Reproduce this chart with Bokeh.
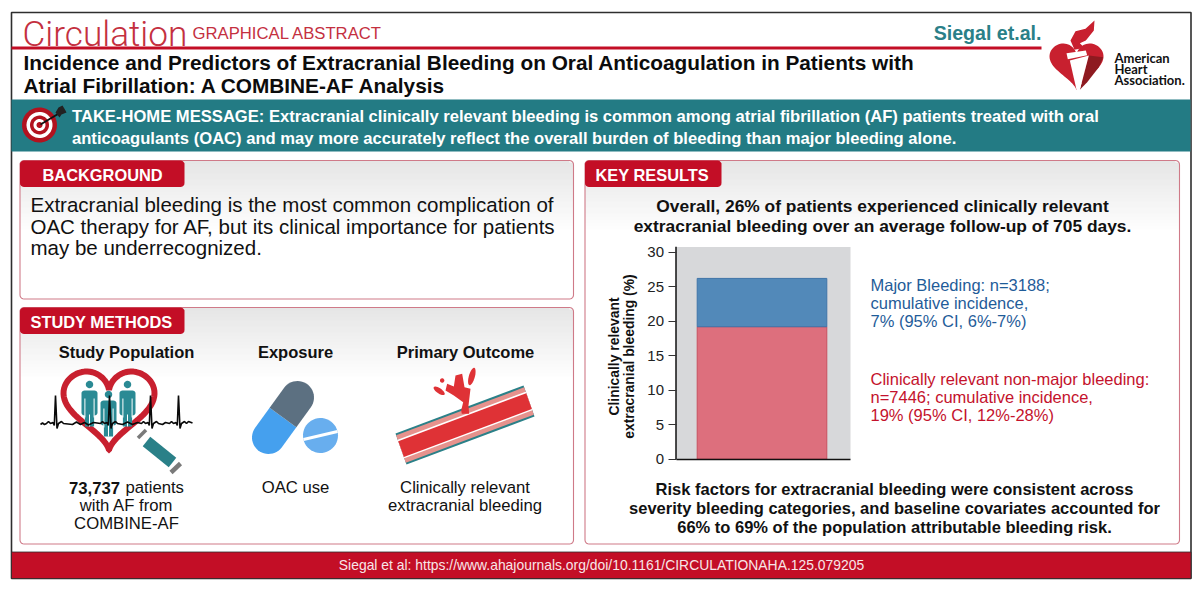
import numpy as np
from bokeh.plotting import figure
from bokeh.models import Range1d, LinearAxis, FixedTicker
from bokeh.core.properties import value
from bokeh.embed import file_html
from bokeh.resources import INLINE

# ---- chart data ----
bleeding_categories = ["Clinically relevant non-major bleeding", "Major bleeding"]
bleeding_values = [19.2, 7.0]
tick_values = [0, 5, 10, 15, 20, 25, 30]
axis_title = "Clinically relevant\nextracranial bleeding (%)"

# ---- texts ----
title_lines = ["Incidence and Predictors of Extracranial Bleeding on Oral Anticoagulation in Patients with",
               "Atrial Fibrillation: A COMBINE-AF Analysis"]
take_home = ["TAKE-HOME MESSAGE: Extracranial clinically relevant bleeding is common among atrial fibrillation (AF) patients treated with oral",
             "anticoagulants (OAC) and may more accurately reflect the overall burden of bleeding than major bleeding alone."]
background_lines = ["Extracranial bleeding is the most common complication of",
                    "OAC therapy for AF, but its clinical importance for patients",
                    "may be underrecognized."]
key_top = ["Overall, 26% of patients experienced clinically relevant",
           "extracranial bleeding over an average follow-up of 705 days."]
key_bottom = ["Risk factors for extracranial bleeding were consistent across",
              "severity bleeding categories, and baseline covariates accounted for",
              "66% to 69% of the population attributable bleeding risk."]
major_note = ["Major Bleeding: n=3188;", "cumulative incidence,", "7% (95% CI, 6%-7%)"]
crnm_note = ["Clinically relevant non-major bleeding:", "n=7446; cumulative incidence,", "19% (95% CI, 12%-28%)"]
footer_text = "Siegal et al: https://www.ahajournals.org/doi/10.1161/CIRCULATIONAHA.125.079205"

RED = "#c30e26"
TEAL = "#237b84"
FONT = "Liberation Sans"

X0, X1, Y0, Y1 = 0, 1192, 582, 0
p = figure(width=1192, height=582, x_range=Range1d(X0, X1), y_range=Range1d(Y0, Y1),
           output_backend="svg", toolbar_location=None, min_border=0,
           x_axis_type=None, y_axis_type=None, outline_line_color=None,
           background_fill_color="white", border_fill_color="white")
p.grid.visible = False


def T(x, y, s, size, color="#111111", bold=False, align="left", font=FONT):
    p.text(x=[x], y=[y], text=[s], text_font=value(font), text_font_size=f"{size}px",
           text_font_style="bold" if bold else "normal", text_color=color,
           text_align=align, text_baseline="middle")


def poly(pts, color, **kw):
    a = np.array(pts, dtype=float)
    p.patch(a[:, 0], a[:, 1], fill_color=color, line_color=None, **kw)


def rrect(x0, y0, x1, y1, r=4):
    t = np.linspace(0, np.pi / 2, 6)
    pts = []
    for cx, cy, a0 in [(x1 - r, y0 + r, -np.pi / 2), (x1 - r, y1 - r, 0),
                       (x0 + r, y1 - r, np.pi / 2), (x0 + r, y0 + r, np.pi)]:
        pts += [(cx + r * np.cos(a0 + u), cy + r * np.sin(a0 + u)) for u in t]
    return pts


def circle_pts(cx, cy, rx, ry=None, rot=0, n=48):
    ry = rx if ry is None else ry
    t = np.linspace(0, 2 * np.pi, n)
    x, y = rx * np.cos(t), ry * np.sin(t)
    return np.c_[cx + x * np.cos(rot) - y * np.sin(rot), cy + x * np.sin(rot) + y * np.cos(rot)]


def heart_pts(x0, x1, y0, y1, n=120):
    t = np.linspace(0, 2 * np.pi, n)
    hx = 16 * np.sin(t) ** 3
    hy = 13 * np.cos(t) - 5 * np.cos(2 * t) - 2 * np.cos(3 * t) - np.cos(4 * t)
    x = x0 + (hx + 16) / 32 * (x1 - x0)
    y = y0 + (hy.max() - hy) / (hy.max() - hy.min()) * (y1 - y0)
    return np.c_[x, y]


def panel(x0, y0, x1, y1, tag_x1, label, lx, r=4):
    steps = 36
    ys = np.linspace(y0, y0 + 72, steps + 1)
    lefts, rights, tops, bots, cols = [], [], [], [], []
    for i in range(steps):
        g = int(230 + (255 - 230) * (i / (steps - 1)))
        inset = 0 if ys[i] >= y0 + r else r - np.sqrt(max(r ** 2 - (r - (ys[i] - y0)) ** 2, 0))
        lefts.append(x0 + inset); rights.append(x1 - inset)
        tops.append(ys[i]); bots.append(ys[i + 1] + 1)
        cols.append(f"#{g:02x}{g:02x}{g:02x}")
    p.quad(left=lefts, right=rights, top=tops, bottom=bots, fill_color=cols, line_color=None)
    a = np.array(rrect(x0, y0, x1, y1, r) + rrect(x0, y0, x1, y1, r)[:1])
    p.line(a[:, 0], a[:, 1], line_color="#cf7a88", line_width=1.1)
    poly(rrect(x0, y0, tag_x1, y0 + 26.5, r), RED)
    T(lx, y0 + 14, label, 16.4, "white", True)


# outer frame
p.quad(left=[11], right=[1190.5], top=[12], bottom=[578], fill_color="white", line_color="#2e2e2e", line_width=1.6)

# header
T(22, 33, "Circulation", 35.2, "#c4303f", font="Roboto Light")
p.line([11, 1041], [47.5, 47.5], line_color=RED, line_width=3)
T(192, 33, "GRAPHICAL ABSTRACT", 16.7, "#c4303f")
T(1041, 32, "Siegal et.al.", 19.6, "#2a8088", True, "right")
for y, s in zip([62, 85], title_lines):
    T(23, y, s, 20.8, "#0c0c0c", True)

# teal banner
p.quad(left=[11], right=[1190], top=[99], bottom=[151], fill_color=TEAL, line_color=None)
for y, s in zip([116, 138], take_home):
    T(71.5, y, s, 16.6, "white", True)
# target icon
for r_, c in [(17.5, "#b2121f"), (13, "white"), (9.5, "#b2121f"), (6, "white"), (3, "#b2121f")]:
    poly(circle_pts(39, 124.5, r_), c)
p.line([40, 60], [124, 112], line_color="#111111", line_width=2)
poly([(55, 112), (58, 107), (62, 105), (65, 110), (66, 112), (61, 114), (59, 117)], "#222222")

# panels
panel(19.5, 160, 573, 298.5, 184, "BACKGROUND", 42)
panel(19.5, 307, 573, 543.5, 184, "STUDY METHODS", 30)
panel(584.5, 160, 1179, 543.5, 721, "KEY RESULTS", 595)

for y, s in zip([204, 226, 247], background_lines):
    T(30, y, s, 20.5, "#111111")

# study methods columns
for x, s in [(126, "Study Population"), (295, "Exposure"), (465, "Primary Outcome")]:
    T(x, 351, s, 16.5, "#111111", True, "center")
T(119.5, 487, "73,737", 16.7, "#111111", True, "right")
T(125, 487, "patients", 16.7)
T(126, 505, "with AF from", 16.7, align="center")
T(126, 523, "COMBINE-AF", 16.7, align="center")
T(295, 487, "OAC use", 16.7, align="center")
T(464.5, 487, "Clinically relevant", 16.7, align="center")
T(464.5, 505, "extracranial bleeding", 16.7, align="center")

# --- study population icon ---
h = heart_pts(63, 154, 371, 450)
p.line(h[:, 0], h[:, 1], line_color="#c8202f", line_width=6)
for cx, top in [(89, 380), (108, 390), (127, 380)]:
    poly(circle_pts(cx, top + 4, 3.7), "#2a8a94")
    b = top + 10
    poly(rrect(cx - 8, b, cx + 8, b + 25, 3), "#2a8a94")
    poly([(cx - 4.6, b + 21), (cx + 4.6, b + 21), (cx + 4.6, b + 36), (cx - 4.6, b + 36)], "#2a8a94")
    p.segment(x0=[cx - 4.6, cx + 4.6, cx], y0=[b + 8, b + 8, b + 24],
              x1=[cx - 4.6, cx + 4.6, cx], y1=[b + 27, b + 27, b + 36], line_color="white", line_width=1)
ex, ey = [40, 42, 44], [424, 422.5, 424]
for bx in [55, 109, 150, 178]:
    ex += [bx - 9, bx - 7, bx - 5, bx - 2.5, bx - 1.2, bx, bx + 1.5, bx + 3, bx + 6, bx + 8]
    ey += [423, 421, 423, 422, 425, 395, 428, 423, 421, 423]
for gx, gy in [(72, 424), (76, 421.5), (80, 424), (84, 422), (88, 424.5), (93, 422), (122, 424), (127, 421.5),
               (132, 424), (137, 422), (162, 424), (165, 422), (188, 421), (192, 422.5)]:
    ex.append(gx); ey.append(gy)
order = np.argsort(ex)
ex = np.array(ex)[order]
ey = np.array(ey)[order]
p.line(ex, ey, line_color="#0a0a0a", line_width=1.6)
p.line([137.5, 145.5], [437.5, 429.5], line_color="#7a7a7a", line_width=3.5)
p.line([146, 172], [441, 462], line_color="#2a8088", line_width=12)
p.line([170.5, 180], [472, 463], line_color="#7a7a7a", line_width=4.5)

# --- pill icon ---
A, B = np.array([268.0, 437.0]), np.array([297.0, 397.0])
M = (A + B) / 2
d = (B - A) / np.linalg.norm(B - A)
n_ = np.array([-d[1], d[0]])
R = 16.5
ang = np.arctan2(d[1], d[0])
arc_a = [A + R * np.array([np.cos(t), np.sin(t)]) for t in np.linspace(ang + np.pi / 2, ang + 3 * np.pi / 2, 24)]
arc_b = [B + R * np.array([np.cos(t), np.sin(t)]) for t in np.linspace(ang - np.pi / 2, ang + np.pi / 2, 24)]
poly(arc_a + [M - R * n_, M + R * n_], "#45a0ee")
poly(arc_b + [M + R * n_, M - R * n_], "#5c7081")
poly(circle_pts(320, 435, 17.5), "#68aeee")
p.line([303, 337], [439, 431], line_color="white", line_width=3)

# --- vessel icon ---
O = np.array([395.0, 433.0]); U = np.array([128.0, -48.0]); V = np.array([11.0, 31.0])


def band(f0, f1, c):
    poly([O + f0 * V, O + U + f0 * V, O + U + f1 * V, O + f1 * V], c)


for f0, f1, c in [(0, 1, "#2a8088"), (0.06, 0.94, "#e6928d"), (0.2, 0.8, "white"), (0.25, 0.76, "#df3236")]:
    band(f0, f1, c)


def z5(x, y):
    return (x / 3 + 240, y / 3 + 330)


poly([z5(*q) for q in [(662, 240), (668, 215), (640, 195), (615, 180), (620, 160), (640, 168), (645, 135),
                       (665, 130), (672, 170), (690, 175), (684, 225), (686, 250), (664, 250)]], "#df3236")
poly(circle_pts(*z5(694, 138), 9, 3, rot=-1.3), "#df3236")
poly(circle_pts(*z5(596, 181), 6.5, 2.6, rot=0.6), "#df3236")
poly(circle_pts(*z5(605, 150), 2.2), "#df3236")

# --- chart ---
PX0, PX30 = 458.7, 251.7
unit = (PX0 - PX30) / 30
BX, BW = 761.5, 129.6
p.extra_y_ranges["bleed"] = Range1d((PX0 - Y0) / unit, (PX0 - Y1) / unit)
p.extra_x_ranges["bleed"] = Range1d((X0 - BX) / BW, (X1 - BX) / BW)
p.quad(left=[675.5], right=[850], top=[246.5], bottom=[PX0], fill_color="#d7d8da", line_color=None)
tops = np.cumsum(bleeding_values)
bots = tops - np.array(bleeding_values)
p.vbar(x=[0, 0], width=1, bottom=bots, top=tops, x_range_name="bleed", y_range_name="bleed",
       fill_color=["#dd6f7d", "#5289b9"], line_color=["#c9515f", "#3f74a8"], line_width=1)

yaxis = LinearAxis(y_range_name="bleed", fixed_location=675.5, ticker=FixedTicker(ticks=tick_values),
                   bounds=(-1.0, 30.8), axis_label=axis_title)
yaxis.axis_line_color = None
yaxis.major_tick_line_color = "#333333"; yaxis.major_tick_line_width = 1
yaxis.major_tick_in = 0; yaxis.major_tick_out = 8; yaxis.minor_tick_line_color = None
yaxis.major_label_text_font = FONT; yaxis.major_label_text_font_size = "15px"
yaxis.major_label_text_color = "#222222"; yaxis.major_label_standoff = 4
yaxis.axis_label_text_font = FONT; yaxis.axis_label_text_font_size = "13.9px"
yaxis.axis_label_text_font_style = "bold"; yaxis.axis_label_text_color = "#111111"
yaxis.axis_label_text_line_height = 0.95
yaxis.axis_label_standoff = 8
p.add_layout(yaxis, "left")
p.line([675.5, 675.5], [0, 30.8], y_range_name="bleed", line_color="#111111", line_width=1.5)
xaxis = LinearAxis(x_range_name="bleed", y_range_name="bleed", fixed_location=0, ticker=FixedTicker(ticks=[]),
                   bounds=((675.5 - BX) / BW, (850 - BX) / BW))
xaxis.axis_line_color = "#111111"; xaxis.axis_line_width = 1.5
xaxis.major_tick_line_color = None; xaxis.minor_tick_line_color = None
xaxis.major_label_text_font_size = "0px"
p.add_layout(xaxis, "below")

for y, s in zip([205, 225], key_top):
    T(882, y, s, 17.4, "#111111", True, "center")
for y, s in zip([488, 507, 526], key_bottom):
    T(894, y, s, 16.5, "#111111", True, "center")
for y, s in zip([284, 302, 320], major_note):
    T(870, y, s, 16.5, "#1f5c99")
for y, s in zip([378, 396, 414], crnm_note):
    T(870, y, s, 16.5, "#c4122c")

# footer
p.quad(left=[11], right=[1190.5], top=[551.5], bottom=[578], fill_color=RED, line_color="#2e2e2e", line_width=0.8)
T(601, 564, footer_text, 13.9, "#f8e6e8", align="center")


# --- association logo ---
def z9(x, y):
    return (x / 3 + 1020, y / 3 + 10)


poly(heart_pts(1049, 1103, 43, 90), "#c8202f")
poly([z9(*q) for q in [(205, 135), (248, 140), (235, 170), (200, 215), (178, 238)]], "#8e1a20")
poly([z9(*q) for q in [(148, 150), (205, 135), (178, 238), (168, 238)]], "white")
poly([z9(*q) for q in [(138, 128), (196, 120), (200, 134), (142, 146)]], "white")
poly([z9(*q) for q in [(162, 118), (150, 90), (165, 62), (195, 55), (222, 30), (220, 60), (196, 90),
                       (178, 98), (192, 112)]], "#c8202f")
for y, s in zip([57, 68, 79], ["American", "Heart", "Association."]):
    T(1114, y, s, 13, "#111111", True, font="Lato")

open("out.html", "w").write(file_html(p, INLINE))
